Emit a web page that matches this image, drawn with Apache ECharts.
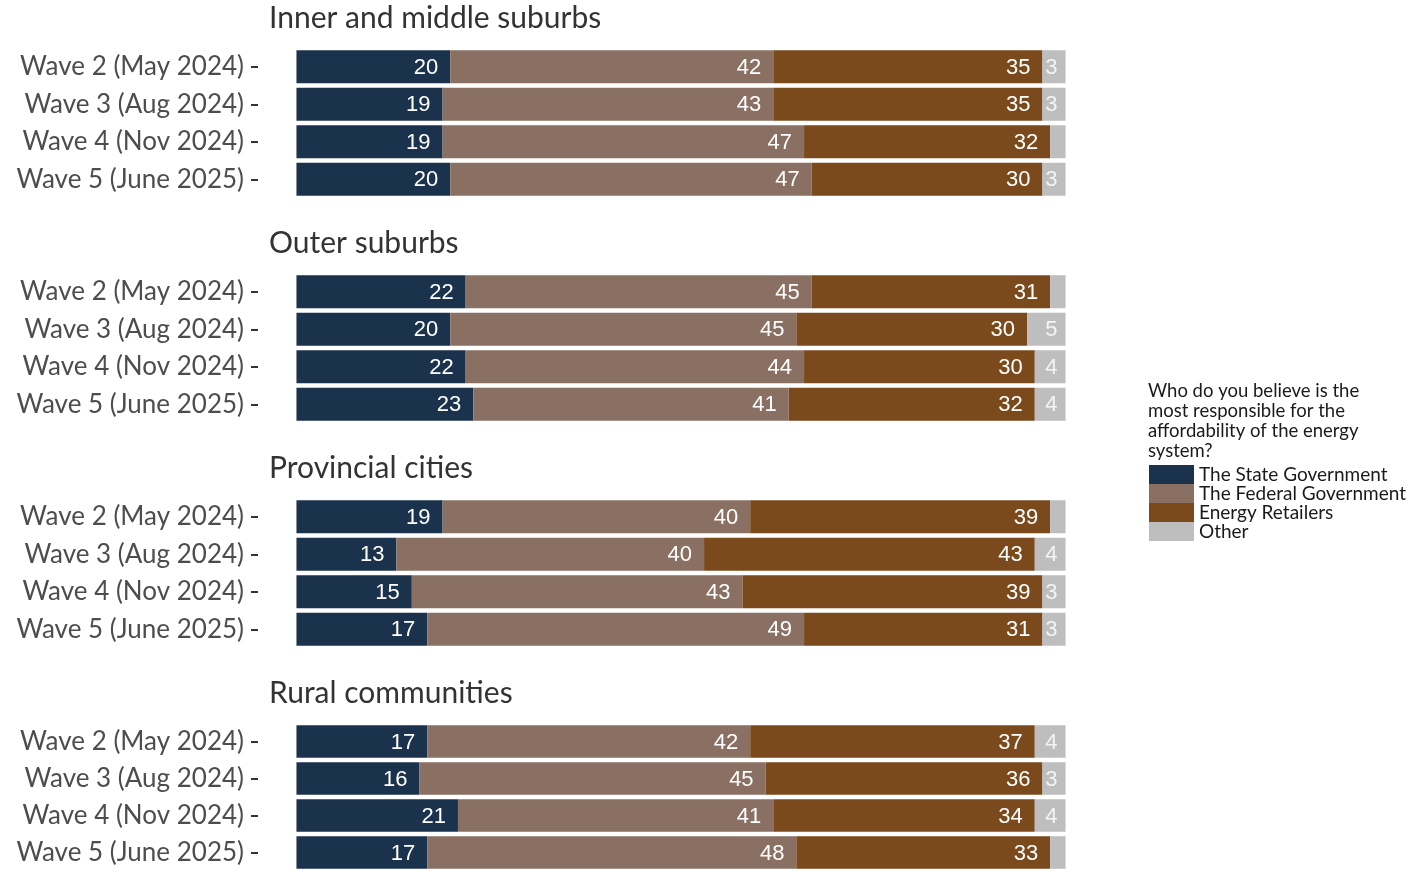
<!DOCTYPE html>
<html><head><meta charset="utf-8">
<script src="https://cdn.jsdelivr.net/npm/echarts@6/dist/echarts.min.js"></script>
<style>html,body{margin:0;padding:0;background:#fff}#c{width:1414px;height:871px}</style>
</head><body><div id="c"></div>
<script>
const waves = ['Wave 2 (May 2024)', 'Wave 3 (Aug 2024)', 'Wave 4 (Nov 2024)', 'Wave 5 (June 2025)'];
const panels = ['Inner and middle suburbs', 'Outer suburbs', 'Provincial cities', 'Rural communities'];
const responders = ['The State Government', 'The Federal Government', 'Energy Retailers', 'Other'];
const colors = ['#1b324c', '#8a7062', '#7b4a1c', '#bebebe'];
const legendTitle = 'Who do you believe is the\nmost responsible for the\naffordability of the energy\nsystem?';

// values per panel: [state, federal, retailers, other] per wave
const innerMiddle = { state: [20, 19, 19, 20], federal: [42, 43, 47, 47], retailers: [35, 35, 32, 30], other: [3, 3, 2, 3] };
const outer       = { state: [22, 20, 22, 23], federal: [45, 45, 44, 41], retailers: [31, 30, 30, 32], other: [2, 5, 4, 4] };
const provincial  = { state: [19, 13, 15, 17], federal: [40, 40, 43, 49], retailers: [39, 43, 39, 31], other: [2, 4, 3, 3] };
const rural       = { state: [17, 16, 21, 17], federal: [42, 45, 41, 48], retailers: [37, 36, 34, 33], other: [4, 3, 4, 2] };
const panelData = [innerMiddle, outer, provincial, rural];
const keys = ['state', 'federal', 'retailers', 'other'];

const FONT = 'Lato';
const gridTop0 = 48, gridStep = 225, gridH = 150;
const grids = [], xAxes = [], yAxes = [], series = [], titles = [];
panels.forEach((p, i) => {
  const top = gridTop0 + i * gridStep;
  grids.push({ left: 258, right: 310, top: top, height: gridH });
  xAxes.push({ gridIndex: i, type: 'value', min: -5, max: 105, show: false });
  yAxes.push({
    gridIndex: i, type: 'category', data: waves, inverse: true,
    axisLine: { show: false, onZero: false },
    axisTick: { show: true, alignWithLabel: true, length: 7, lineStyle: { color: '#333', width: 2 } },
    axisLabel: { fontFamily: FONT, fontSize: 26, color: '#4d4d4d', margin: 14 },
    splitLine: { show: false }
  });
  titles.push({ text: p, left: 269, top: top - 45, padding: 0, textStyle: { fontFamily: FONT, fontSize: 30, fontWeight: 'normal', color: '#333' } });
  keys.forEach((k, j) => {
    series.push({
      name: responders[j], type: 'bar', stack: 'p' + i, xAxisIndex: i, yAxisIndex: i,
      data: panelData[i][k], barWidth: '88%',
      itemStyle: { color: colors[j] },
      label: {
        show: true, position: 'insideRight', distance: j === 3 ? 8 : 12,
        fontFamily: 'Liberation Sans', fontSize: 22, color: j === 3 ? '#f4f4f4' : '#fff', offset: [0, 1],
        formatter: (d) => d.value >= 3 ? String(d.value) : ''
      },
      emphasis: { disabled: true }, animation: false
    });
  });
});
titles.push({ text: legendTitle, left: 1148, top: 381, padding: 0, textStyle: { fontFamily: FONT, fontSize: 18.5, fontWeight: 'normal', color: '#1a1a1a', lineHeight: 20 } });

const chart = echarts.init(document.getElementById('c'));
chart.setOption({
  animation: false,
  title: titles,
  grid: grids, xAxis: xAxes, yAxis: yAxes, series: series,
  legend: {
    data: responders, orient: 'vertical', left: 1149, top: 465, padding: 0,
    itemWidth: 45, itemHeight: 19, itemGap: 0, icon: 'rect',
    textStyle: { fontFamily: FONT, fontSize: 19, color: '#1a1a1a', lineHeight: 19, padding: [0, 0, 0, 0] },
    selectedMode: false
  }
});
</script></body></html>
